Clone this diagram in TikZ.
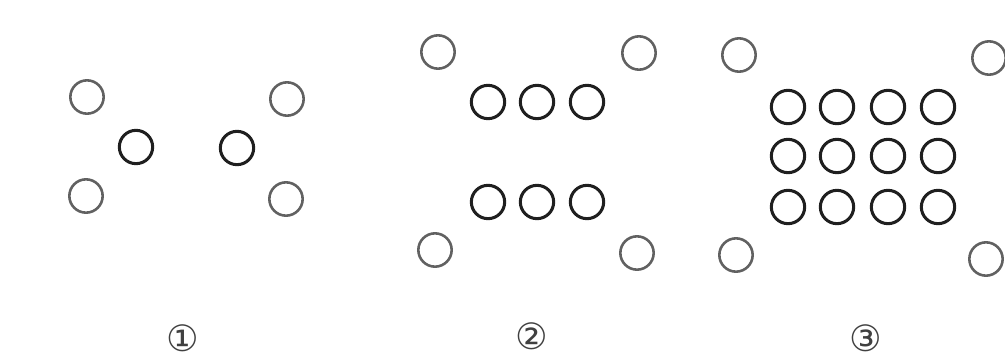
\documentclass[tikz,border=0pt]{standalone}
\usepackage{fontspec}
\newfontfamily\symfont{DejaVu Sans}
\usetikzlibrary{positioning}

\begin{document}
\begin{tikzpicture}[
    x=0.03cm, y=-0.03cm,
    oNode/.style={circle, draw=black!62, line width=2.2pt, minimum size=1.0cm, inner sep=0pt},
    iNode/.style={oNode, draw=black!88, line width=2.6pt},
    lNode/.style={font=\symfont\fontsize{31}{33}\selectfont, text=black!75, inner sep=0pt}
]
    \useasboundingbox (0,0) rectangle (1005,362);

    % panel 1
    \node[oNode] (P1a) at (87,97) {};
    \node[oNode] (P1b) at (287,99) {};
    \node[iNode] (P1c) at (136,147) {};
    \node[iNode] (P1d) at (237,148) {};
    \node[oNode] (P1e) at (86,196) {};
    \node[oNode] (P1f) at (286,199) {};
    \node[lNode] (L1) at (183,338) {①};

    % panel 2
    \node[oNode] (P2a) at (438,52) {};
    \node[oNode] (P2b) at (639,53) {};
    \node[oNode] (P2c) at (435,250) {};
    \node[oNode] (P2d) at (637,253) {};
    \foreach \x [count=\i] in {488,537,587} {
        \node[iNode] (R1-\i) at (\x,102) {};
        \node[iNode] (R2-\i) at (\x,202) {};
    }
    \node[lNode] (L2) at (532,336) {②};

    % panel 3
    \node[oNode] (P3a) at (739,55) {};
    \node[oNode] (P3b) at (989,58) {};
    \node[oNode] (P3c) at (736,255) {};
    \node[oNode] (P3d) at (986,259) {};
    \foreach \y [count=\r] in {107,156,207} {
        \foreach \x [count=\c] in {788,837,888,938} {
            \node[iNode] (G-\r-\c) at (\x,\y) {};
        }
    }
    \node[lNode] (L3) at (866,338) {③};
\end{tikzpicture}
\end{document}
